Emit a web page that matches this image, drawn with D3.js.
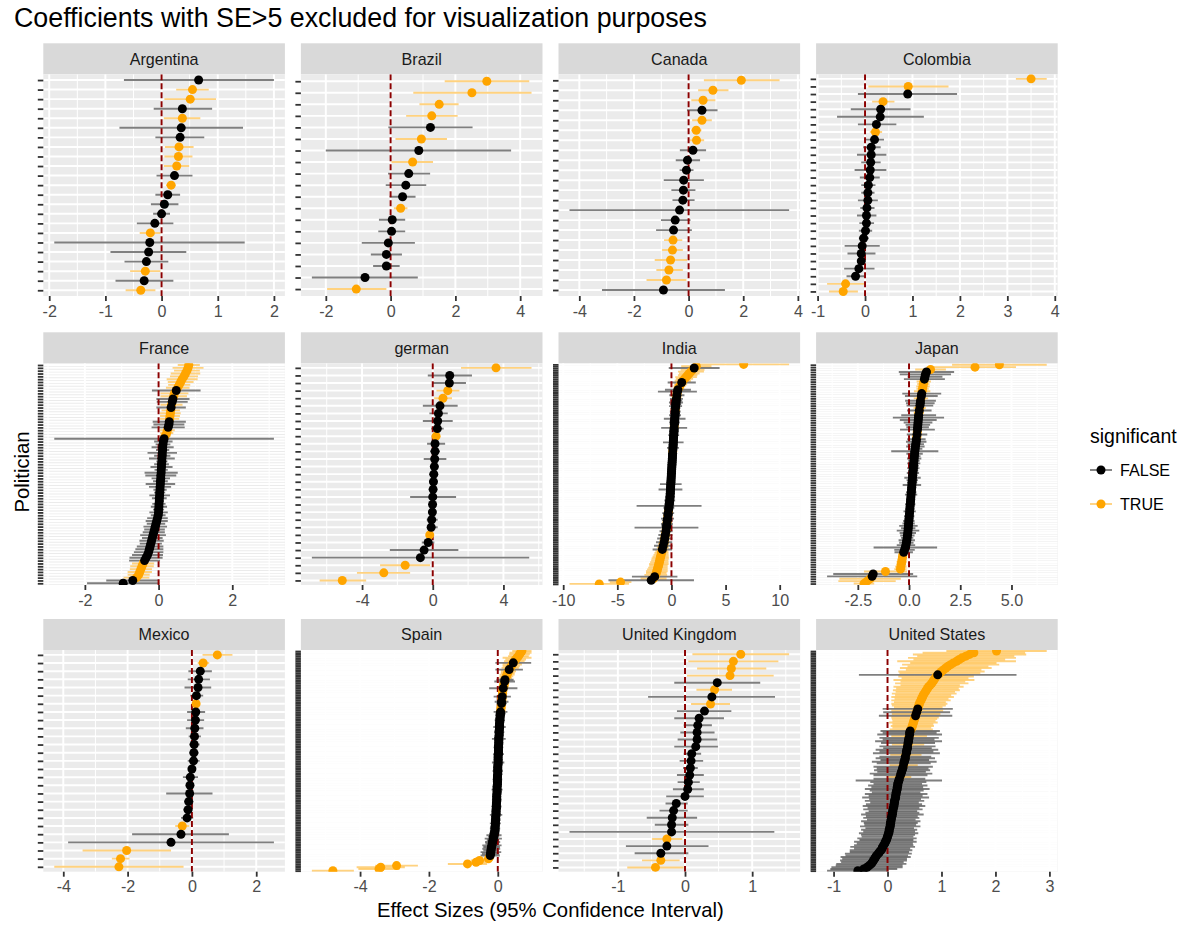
<!DOCTYPE html>
<html>
<head>
<meta charset="utf-8">
<script src="https://cdn.jsdelivr.net/npm/d3@7"></script>
<style>
  body { margin: 0; background: #fff; }
  svg text { font-family: "Liberation Sans", Arial, Helvetica, sans-serif; }
</style>
</head>
<body>
<svg id="chart" width="1188" height="925"></svg>
<script>
// facet order (left to right, top to bottom)
const countries = ["Argentina", "Brazil", "Canada", "Colombia", "France", "german",
                   "India", "Japan", "Mexico", "Spain", "United Kingdom", "United States"];

// x tick labels for each facet (free scales)
const xTickLabels = [
  ["-2", "-1", "0", "1", "2"],
  ["-2", "0", "2", "4"],
  ["-4", "-2", "0", "2", "4"],
  ["-1", "0", "1", "2", "3", "4"],
  ["-2", "0", "2"],
  ["-4", "0", "4"],
  ["-10", "-5", "0", "5", "10"],
  ["-2.5", "0.0", "2.5", "5.0"],
  ["-4", "-2", "0", "2"],
  ["-4", "-2", "0"],
  ["-1", "0", "1"],
  ["-1", "0", "1", "2", "3"]
];

// small facets: [estimate, lower, upper], top row first
const argentina = [[0.66,-0.67,2.00],[0.55,0.26,0.84],[0.51,0.05,0.97],[0.37,-0.14,0.90],[0.37,0.04,0.69],
  [0.35,-0.75,1.45],[0.33,-0.11,0.76],[0.31,0.06,0.57],[0.30,0.05,0.55],[0.27,0.04,0.49],[0.23,-0.09,0.55],
  [0.17,0.08,0.25],[0.11,-0.11,0.33],[0.05,-0.19,0.30],[0.00,-0.15,0.15],[-0.12,-0.44,0.21],[-0.20,-0.39,-0.02],
  [-0.21,-1.91,1.48],[-0.23,-0.91,0.44],[-0.27,-0.66,0.12],[-0.29,-0.56,-0.02],[-0.31,-0.82,0.21],[-0.37,-0.64,-0.11]];

const brazil = [[2.97,1.67,4.28],[2.51,0.70,4.35],[1.50,0.89,2.10],[1.27,0.48,2.07],[1.23,-0.07,2.53],
  [0.95,0.15,1.74],[0.87,-2.00,3.72],[0.68,0.03,1.31],[0.56,-0.08,1.22],[0.47,-0.15,1.10],[0.37,-0.03,0.77],
  [0.31,0.10,0.52],[0.05,-0.36,0.45],[0.03,-0.38,0.45],[-0.07,-0.89,0.75],[-0.13,-0.61,0.35],[-0.13,-0.54,0.28],
  [-0.79,-2.43,0.84],[-1.06,-1.96,-0.13]];

const canada = [[1.93,0.56,3.33],[0.89,0.35,1.46],[0.53,0.10,0.98],[0.49,-0.06,1.06],[0.49,0.13,0.85],
  [0.28,0.10,0.47],[0.29,0.04,0.57],[0.16,-0.32,0.64],[-0.04,-0.47,0.42],[-0.08,-0.33,0.18],[-0.18,-0.91,0.56],
  [-0.19,-0.63,0.25],[-0.21,-0.59,0.22],[-0.33,-4.36,3.68],[-0.49,-1.01,0.07],[-0.55,-1.19,0.12],[-0.57,-0.90,-0.23],
  [-0.59,-0.97,-0.21],[-0.66,-1.24,-0.05],[-0.72,-1.18,-0.21],[-0.81,-1.54,-0.08],[-0.92,-3.17,1.33]];

const colombia = [[3.50,3.18,3.83],[0.91,0.07,1.76],[0.90,-0.15,1.94],[0.38,0.15,0.62],[0.33,-0.30,0.96],
  [0.32,-0.59,1.24],[0.24,-0.15,0.66],[0.22,0.10,0.36],[0.20,-0.02,0.40],[0.13,-0.04,0.33],[0.13,-0.17,0.45],
  [0.12,-0.08,0.33],[0.11,-0.22,0.45],[0.10,-0.11,0.31],[0.07,-0.08,0.22],[0.06,-0.08,0.20],[0.06,-0.15,0.27],
  [0.04,-0.10,0.20],[0.03,-0.17,0.24],[0.03,-0.12,0.19],[0.01,-0.13,0.15],[-0.03,-0.13,0.08],[-0.06,-0.43,0.31],
  [-0.08,-0.37,0.22],[-0.08,-0.15,0.01],[-0.13,-0.44,0.20],[-0.20,-0.39,0.01],[-0.41,-0.80,-0.02],[-0.46,-0.76,-0.15]];

const german = [[3.58,1.60,5.59],[0.96,-0.28,2.22],[0.94,-0.04,1.88],[0.85,0.21,1.51],[0.58,0.08,1.09],
  [0.41,-0.56,1.41],[0.32,-0.19,0.85],[0.28,-0.56,1.13],[0.26,-0.09,0.62],[0.19,0.04,0.34],[0.13,-0.32,0.70],
  [0.13,-0.15,0.41],[0.11,-0.51,0.77],[0.09,-0.13,0.32],[0.06,-0.19,0.30],[0.04,-0.19,0.26],[0.02,-0.19,0.23],
  [0.00,-1.28,1.32],[-0.01,-0.19,0.19],[-0.02,-0.21,0.17],[-0.06,-0.34,0.28],[-0.09,-0.32,0.28],[-0.17,-0.38,-0.03],
  [-0.26,-0.62,0.09],[-0.49,-2.43,1.45],[-0.70,-6.84,5.46],[-1.56,-2.98,-0.15],[-2.77,-4.29,-1.28],[-5.12,-6.40,-3.77]];

const mexico = [[0.79,0.33,1.26],[0.35,0.18,0.54],[0.26,-0.11,0.62],[0.21,-0.13,0.56],[0.19,-0.23,0.60],
  [0.14,-0.05,0.35],[0.13,0.04,0.23],[0.12,-0.15,0.41],[0.11,-0.15,0.38],[0.09,-0.19,0.36],[0.08,-0.10,0.28],
  [0.07,-0.08,0.24],[0.06,-0.08,0.21],[0.05,-0.13,0.24],[0.00,-0.12,0.12],[-0.05,-0.28,0.19],[-0.06,-0.14,0.03],
  [-0.07,-0.80,0.64],[-0.10,-0.24,0.05],[-0.12,-0.27,0.02],[-0.15,-0.34,0.04],[-0.30,-0.52,-0.08],[-0.34,-1.86,1.15],
  [-0.65,-3.85,2.55],[-2.03,-3.40,-0.65],[-2.22,-2.49,-1.94],[-2.27,-4.28,-0.26]];

const unitedKingdom = [[0.83,0.11,1.55],[0.72,0.05,1.39],[0.69,0.18,1.21],[0.67,0.03,1.32],[0.48,-0.16,1.12],
  [0.44,0.17,0.70],[0.40,-0.55,1.34],[0.38,0.09,0.67],[0.29,-0.12,0.69],[0.21,-0.16,0.58],[0.19,-0.02,0.40],
  [0.18,-0.07,0.44],[0.18,-0.11,0.48],[0.16,-0.16,0.49],[0.10,-0.02,0.24],[0.09,-0.08,0.27],[0.08,-0.03,0.19],
  [0.07,-0.12,0.28],[0.05,-0.11,0.22],[0.04,-0.18,0.28],[0.00,-0.28,0.28],[-0.13,-0.29,0.04],[-0.17,-0.38,0.04],
  [-0.19,-0.57,0.18],[-0.20,-0.45,0.05],[-0.20,-1.72,1.33],[-0.27,-0.49,-0.04],[-0.27,-0.88,0.35],[-0.36,-0.75,0.05],
  [-0.36,-0.64,-0.08],[-0.44,-0.86,-0.02]];

// large facets: [estimate, half width of the 95% interval], top row first
const france = [[0.82,0.30],[0.80,0.42],[0.77,0.35],[0.73,0.40],[0.69,0.38],[0.64,0.42],[0.60,0.35],[0.56,0.30],
  [0.52,0.32],[0.48,0.66],[0.43,0.38],[0.41,0.36],[0.39,0.45],[0.37,0.42],[0.35,0.30],[0.34,0.40],[0.33,0.25],
  [0.32,0.28],[0.31,0.27],[0.30,0.26],[0.29,0.45],[0.28,0.42],[0.26,0.45],[0.24,0.20],[0.22,0.18],[0.18,0.15],
  [0.15,2.98],[0.13,0.25],[0.12,0.20],[0.11,0.30],[0.11,0.18],[0.10,0.40],[0.10,0.22],[0.09,0.35],[0.09,0.15],
  [0.08,0.20],[0.08,0.30],[0.07,0.18],[0.07,0.45],[0.06,0.42],[0.06,0.25],[0.05,0.20],[0.05,0.40],[0.04,0.30],
  [0.04,0.18],[0.03,0.15],[0.03,0.28],[0.02,0.20],[0.02,0.12],[0.01,0.18],[0.01,0.22],[0.00,0.15],[0.00,0.25],
  [-0.01,0.20],[-0.03,0.28],[-0.05,0.30],[-0.07,0.25],[-0.09,0.32],[-0.11,0.28],[-0.13,0.30],[-0.15,0.35],
  [-0.17,0.28],[-0.19,0.33],[-0.21,0.30],[-0.23,0.36],[-0.25,0.38],[-0.27,0.40],[-0.30,0.42],[-0.34,0.45],
  [-0.38,0.42],[-0.42,0.30],[-0.45,0.32],[-0.48,0.30],[-0.51,0.33],[-0.54,0.30],[-0.60,0.35],[-0.70,0.72],[-0.96,0.98]];

const india = [[6.67,4.20],[2.30,1.40],[2.10,2.35],[1.95,1.10],[1.80,1.20],[1.65,0.95],[1.50,0.90],[1.35,1.00],
  [1.20,0.80],[1.05,0.75],[0.95,1.30],[0.85,0.60],[0.75,0.55],[0.68,0.50],[0.60,1.20],[0.55,1.80],[0.52,0.40],
  [0.50,0.70],[0.48,0.45],[0.46,0.60],[0.44,0.55],[0.42,0.65],[0.40,0.50],[0.38,0.60],[0.37,0.45],[0.36,0.30],
  [0.35,0.50],[0.34,0.45],[0.33,0.55],[0.32,0.40],[0.30,1.00],[0.29,0.45],[0.28,0.50],[0.27,0.35],[0.26,0.20],
  [0.25,1.20],[0.24,0.40],[0.23,0.45],[0.22,0.35],[0.21,0.50],[0.20,0.40],[0.19,0.30],[0.18,0.35],[0.17,0.95],
  [0.16,0.30],[0.15,0.40],[0.14,0.55],[0.13,0.30],[0.12,0.10],[0.11,0.35],[0.10,0.40],[0.09,0.30],[0.08,0.25],
  [0.07,0.35],[0.06,0.30],[0.05,0.25],[0.04,0.30],[0.03,0.35],[0.02,0.25],[0.01,0.30],[0.00,0.40],[-0.01,0.30],
  [-0.02,0.35],[-0.03,0.25],[-0.04,0.30],[-0.05,0.40],[-0.06,1.00],[-0.07,0.30],[-0.08,0.35],[-0.09,1.10],
  [-0.10,0.30],[-0.11,0.40],[-0.12,0.35],[-0.13,0.45],[-0.14,0.30],[-0.16,0.50],[-0.18,0.40],[-0.20,0.45],
  [-0.22,3.00],[-0.24,0.50],[-0.26,0.40],[-0.28,0.20],[-0.30,0.55],[-0.32,0.45],[-0.34,0.25],[-0.36,0.60],
  [-0.38,0.50],[-0.40,0.30],[-0.42,0.55],[-0.44,0.50],[-0.46,2.95],[-0.48,0.40],[-0.50,0.60],[-0.53,0.35],
  [-0.56,0.65],[-0.59,0.40],[-0.62,0.70],[-0.65,0.45],[-0.68,0.75],[-0.72,0.50],[-0.76,0.85],[-0.80,0.55],
  [-0.84,0.90],[-0.88,0.60],[-0.92,0.65],[-0.96,0.70],[-1.00,0.75],[-1.04,0.80],[-1.08,0.80],[-1.12,0.85],
  [-1.16,0.90],[-1.20,0.85],[-1.25,0.90],[-1.30,0.95],[-1.35,1.00],[-1.40,0.95],[-1.45,1.05],[-1.55,2.10],
  [-1.65,1.20],[-1.87,3.95],[-4.70,1.00],[-6.67,2.75]];

const japan = [[4.41,2.31],[3.22,2.00],[1.05,0.75],[0.85,1.35],[0.80,1.25],[0.78,0.85],[0.75,1.00],[0.72,0.35],
  [0.70,0.30],[0.68,0.33],[0.66,0.30],[0.64,0.40],[0.62,0.95],[0.60,0.80],[0.58,0.35],[0.56,0.75],[0.55,0.70],
  [0.53,0.65],[0.52,0.30],[0.50,0.60],[0.48,0.25],[0.47,0.85],[0.46,1.25],[0.45,0.90],[0.44,0.70],[0.43,0.60],
  [0.42,0.55],[0.41,0.85],[0.40,0.20],[0.39,0.50],[0.38,0.22],[0.36,0.45],[0.35,0.50],[0.33,0.40],[0.31,0.45],
  [0.30,0.35],[0.28,1.15],[0.27,0.40],[0.26,0.30],[0.25,0.35],[0.24,0.28],[0.23,0.32],[0.22,0.26],[0.21,0.30],
  [0.20,0.25],[0.19,0.30],[0.18,0.22],[0.17,0.40],[0.16,0.28],[0.15,0.25],[0.14,0.45],[0.13,0.22],[0.12,0.20],
  [0.11,0.25],[0.10,0.30],[0.09,0.18],[0.08,0.22],[0.07,0.20],[0.06,0.25],[0.05,0.18],[0.04,0.22],[0.03,0.30],
  [0.02,0.20],[0.01,0.25],[0.00,0.22],[-0.01,0.28],[-0.02,0.30],[-0.03,0.45],[-0.04,0.35],[-0.05,0.55],
  [-0.06,0.40],[-0.08,0.35],[-0.09,0.30],[-0.11,0.40],[-0.13,0.35],[-0.15,0.45],[-0.18,1.55],[-0.22,0.50],
  [-0.26,0.45],[-0.30,0.20],[-0.32,0.22],[-0.34,0.20],[-0.36,0.25],[-0.38,0.23],[-0.40,0.28],[-0.42,0.30],
  [-1.15,1.05],[-1.75,1.95],[-1.80,2.20],[-1.90,1.50],[-2.05,1.40],[-2.20,0.50]];

const spain = [[0.70,0.28],[0.66,0.32],[0.63,0.30],[0.60,0.30],[0.56,0.42],[0.52,0.30],[0.48,0.30],[0.45,0.52],
  [0.42,0.28],[0.39,0.25],[0.36,0.25],[0.33,0.40],[0.31,0.22],[0.29,0.20],[0.27,0.22],[0.25,0.20],[0.23,0.18],
  [0.21,0.25],[0.20,0.30],[0.19,0.15],[0.18,0.14],[0.17,0.15],[0.16,0.41],[0.15,0.12],[0.14,0.12],[0.14,0.10],
  [0.13,0.11],[0.13,0.25],[0.12,0.10],[0.12,0.09],[0.11,0.20],[0.11,0.15],[0.10,0.08],[0.10,0.09],[0.09,0.08],
  [0.09,0.07],[0.08,0.20],[0.08,0.15],[0.07,0.14],[0.07,0.12],[0.06,0.10],[0.06,0.15],[0.06,0.12],[0.05,0.10],
  [0.05,0.12],[0.05,0.18],[0.05,0.09],[0.04,0.10],[0.04,0.15],[0.04,0.08],[0.04,0.12],[0.03,0.10],[0.03,0.20],
  [0.03,0.09],[0.03,0.12],[0.03,0.08],[0.02,0.10],[0.02,0.14],[0.02,0.08],[0.02,0.11],[0.02,0.09],[0.02,0.16],
  [0.01,0.10],[0.01,0.08],[0.01,0.12],[0.01,0.09],[0.01,0.18],[0.01,0.10],[0.00,0.08],[0.00,0.12],[0.00,0.09],
  [0.00,0.15],[0.00,0.10],[0.00,0.08],[-0.01,0.11],[-0.01,0.09],[-0.01,0.14],[-0.01,0.10],[-0.01,0.08],
  [-0.01,0.12],[-0.02,0.10],[-0.02,0.09],[-0.02,0.16],[-0.02,0.10],[-0.02,0.12],[-0.03,0.09],[-0.03,0.11],
  [-0.03,0.10],[-0.03,0.14],[-0.03,0.08],[-0.04,0.12],[-0.04,0.10],[-0.04,0.15],[-0.04,0.09],[-0.05,0.11],
  [-0.05,0.13],[-0.05,0.10],[-0.05,0.18],[-0.06,0.12],[-0.06,0.10],[-0.06,0.14],[-0.07,0.12],[-0.07,0.16],
  [-0.07,0.11],[-0.08,0.13],[-0.08,0.15],[-0.08,0.12],[-0.09,0.14],[-0.10,0.15],[-0.11,0.22],[-0.12,0.16],
  [-0.13,0.25],[-0.14,0.18],[-0.15,0.22],[-0.16,0.20],[-0.17,0.28],[-0.18,0.24],[-0.19,0.26],[-0.20,0.22],
  [-0.20,0.30],[-0.21,0.25],[-0.22,0.28],[-0.24,0.12],[-0.27,0.14],[-0.53,0.25],[-0.63,0.30],[-0.88,0.57],
  [-2.94,0.62],[-3.40,0.70],[-3.45,0.60],[-4.79,0.61]];

const unitedStates = [[2.02,0.93],[1.60,0.95],[1.52,1.05],[1.45,0.90],[1.38,1.00],[1.33,0.85],[1.28,1.10],
  [1.22,0.80],[1.17,0.90],[1.12,0.75],[1.08,0.85],[1.04,0.70],[1.00,0.80],[0.97,0.75],[0.93,1.46],[0.90,0.70],
  [0.88,0.62],[0.86,0.75],[0.84,0.60],[0.82,0.68],[0.79,0.55],[0.76,0.65],[0.74,0.58],[0.72,0.62],[0.70,0.55],
  [0.68,0.60],[0.66,0.52],[0.65,0.58],[0.63,0.50],[0.62,0.55],[0.60,0.48],[0.59,0.52],[0.58,0.50],[0.57,0.45],
  [0.56,0.65],[0.55,0.48],[0.54,0.62],[0.53,0.45],[0.52,0.68],[0.51,0.44],[0.50,0.42],[0.49,0.40],[0.48,0.45],
  [0.47,0.38],[0.46,0.40],[0.45,0.36],[0.44,0.40],[0.42,0.55],[0.41,0.50],[0.41,0.60],[0.40,0.33],[0.40,0.55],
  [0.39,0.48],[0.39,0.62],[0.38,0.50],[0.38,0.30],[0.37,0.52],[0.37,0.45],[0.36,0.58],[0.35,0.50],[0.35,0.62],
  [0.34,0.29],[0.33,0.48],[0.33,0.55],[0.32,0.45],[0.31,0.60],[0.30,0.50],[0.30,0.26],[0.29,0.55],[0.28,0.48],
  [0.27,0.52],[0.26,0.45],[0.25,0.58],[0.24,0.50],[0.23,0.21],[0.22,0.48],[0.21,0.80],[0.20,0.52],[0.19,0.45],
  [0.19,0.55],[0.18,0.48],[0.18,0.60],[0.17,0.50],[0.16,0.45],[0.16,0.58],[0.15,0.50],[0.15,0.62],[0.14,0.48],
  [0.13,0.55],[0.13,0.45],[0.12,0.52],[0.12,0.58],[0.11,0.48],[0.10,0.55],[0.10,0.45],[0.09,0.50],[0.09,0.58],
  [0.08,0.48],[0.07,0.52],[0.07,0.45],[0.06,0.55],[0.06,0.50],[0.05,0.48],[0.05,0.56],[0.04,0.45],[0.03,0.52],
  [0.03,0.48],[0.02,0.55],[0.01,0.50],[0.00,0.48],[-0.01,0.55],[-0.02,0.50],[-0.04,0.58],[-0.05,0.52],
  [-0.07,0.55],[-0.09,0.60],[-0.10,0.52],[-0.12,0.58],[-0.15,0.55],[-0.17,0.62],[-0.20,0.58],[-0.22,0.65],
  [-0.24,0.60],[-0.26,0.62],[-0.28,0.58],[-0.30,0.65],[-0.34,0.62],[-0.38,0.66],[-0.44,0.62],[-0.55,0.57]];

// turn each facet into rows with lower / upper bounds and significance
function toRows(arr) {
  return arr.map((r, i) => {
    const est = r[0];
    const lo = r.length === 3 ? r[1] : r[0] - r[1];
    const hi = r.length === 3 ? r[2] : r[0] + r[1];
    return {i, est, lo, hi, sig: lo > 0 || hi < 0};
  });
}
const panels = [argentina, brazil, canada, colombia, france, german,
                india, japan, mexico, spain, unitedKingdom, unitedStates].map(toRows);

// layout (ggplot facet_wrap, 4 columns)
const colLeft = [43.3, 300.9, 558.5, 816.1];
const panelW = 241.6;
const stripTop = [43.3, 332.3, 619.0];
const stripH = 31;
const panelH = 221.7;
const orange = "#FFA500";
const fontFam = '"Liberation Sans", Arial, sans-serif';

const svg = d3.select("#chart");
const defs = svg.append("defs");

svg.append("text")
  .attr("x", 14).attr("y", 27)
  .attr("font-size", 26.8).attr("fill", "#000")
  .text("Coefficients with SE>5 excluded for visualization purposes");

countries.forEach((name, k) => {
  const rows = panels[k];
  // significant ones drawn first, the rest on top
  const drawOrder = rows.slice().sort((a, b) => (b.sig - a.sig) || (a.i - b.i));
  const col = k % 4, r = Math.floor(k / 4);
  const left = colLeft[col], top = stripTop[r] + stripH;

  // free x scale with ggplot's 5% expansion
  const lo = d3.min(rows, d => d.lo), hi = d3.max(rows, d => d.hi);
  const pad = (hi - lo) * 0.05;
  const x = d3.scaleLinear().domain([lo - pad, hi + pad]).range([0, panelW]);
  // discrete y with 0.6 expansion
  const y = d3.scalePoint().domain(d3.range(rows.length)).range([0, panelH]).padding(0.6);

  const majors = xTickLabels[k].map(Number);
  const step = majors[1] - majors[0];
  const minors = [majors[0] - step / 2, ...majors.map(v => v + step / 2)]
    .filter(v => v >= lo - pad && v <= hi + pad);

  // strip
  svg.append("rect")
    .attr("x", left).attr("y", stripTop[r])
    .attr("width", panelW).attr("height", stripH)
    .attr("fill", "#D9D9D9");
  svg.append("text")
    .attr("x", left + panelW / 2).attr("y", stripTop[r] + 21.3)
    .attr("text-anchor", "middle")
    .attr("font-size", 16.1).attr("fill", "#1A1A1A")
    .text(name);

  const g = svg.append("g").attr("transform", `translate(${left},${top})`);
  g.append("rect").attr("width", panelW).attr("height", panelH).attr("fill", "#EBEBEB");

  defs.append("clipPath").attr("id", "clip" + k)
    .append("rect").attr("width", panelW).attr("height", panelH);
  const inner = g.append("g").attr("clip-path", `url(#clip${k})`);

  // grid
  inner.selectAll(".minor").data(minors).join("line")
    .attr("x1", d => x(d)).attr("x2", d => x(d))
    .attr("y1", 0).attr("y2", panelH)
    .attr("stroke", "#fff").attr("stroke-width", 1);
  inner.selectAll(".major").data(majors).join("line")
    .attr("x1", d => x(d)).attr("x2", d => x(d))
    .attr("y1", 0).attr("y2", panelH)
    .attr("stroke", "#fff").attr("stroke-width", 1.95);
  inner.selectAll(".hgrid").data(rows).join("line")
    .attr("x1", 0).attr("x2", panelW)
    .attr("y1", d => y(d.i)).attr("y2", d => y(d.i))
    .attr("stroke", "#fff").attr("stroke-width", 1.95);

  // confidence intervals
  inner.selectAll(".ci").data(drawOrder).join("line")
    .attr("x1", d => x(d.lo)).attr("x2", d => x(d.hi))
    .attr("y1", d => y(d.i)).attr("y2", d => y(d.i))
    .attr("stroke", d => d.sig ? orange : "#000")
    .attr("stroke-opacity", 0.5)
    .attr("stroke-width", 1.9);

  // zero line
  inner.append("line")
    .attr("x1", x(0)).attr("x2", x(0))
    .attr("y1", 0).attr("y2", panelH)
    .attr("stroke", "#8B0000").attr("stroke-width", 1.95)
    .attr("stroke-dasharray", "6,3");

  // estimates
  inner.selectAll(".pt").data(drawOrder).join("circle")
    .attr("cx", d => x(d.est)).attr("cy", d => y(d.i))
    .attr("r", 4.5)
    .attr("fill", d => d.sig ? orange : "#000");

  // axes
  const xAxis = g.append("g")
    .attr("transform", `translate(0,${panelH})`)
    .call(d3.axisBottom(x).tickValues(majors)
      .tickFormat((d, i) => xTickLabels[k][i])
      .tickSize(5).tickSizeOuter(0).tickPadding(4.3));
  const yAxis = g.append("g")
    .call(d3.axisLeft(y).tickFormat("").tickSize(5.5).tickSizeOuter(0));
  [xAxis, yAxis].forEach(a => {
    a.select(".domain").remove();
    a.selectAll(".tick line").attr("stroke", "#333").attr("stroke-width", 1.8);
    a.selectAll("text").attr("fill", "#4D4D4D").attr("font-size", 16.1)
      .attr("font-family", fontFam);
  });
});

// axis titles
svg.append("text")
  .attr("x", 550.3).attr("y", 917)
  .attr("text-anchor", "middle")
  .attr("font-size", 20.3).attr("fill", "#000")
  .text("Effect Sizes (95% Confidence Interval)");
svg.append("text")
  .attr("transform", "translate(29,472) rotate(-90)")
  .attr("text-anchor", "middle")
  .attr("font-size", 20.3).attr("fill", "#000")
  .text("Politician");

// legend
const legend = svg.append("g").attr("transform", "translate(1090,0)");
legend.append("text")
  .attr("x", 0).attr("y", 443)
  .attr("font-size", 19.5).attr("fill", "#000")
  .text("significant");
const keys = [{label: "FALSE", color: "#000", cy: 470}, {label: "TRUE", color: orange, cy: 504}];
keys.forEach(kd => {
  legend.append("line")
    .attr("x1", 0).attr("x2", 22).attr("y1", kd.cy).attr("y2", kd.cy)
    .attr("stroke", kd.color).attr("stroke-opacity", 0.5).attr("stroke-width", 1.9);
  legend.append("circle")
    .attr("cx", 11).attr("cy", kd.cy).attr("r", 4.5).attr("fill", kd.color);
  legend.append("text")
    .attr("x", 30).attr("y", kd.cy + 5.5)
    .attr("font-size", 16.1).attr("fill", "#000")
    .text(kd.label);
});
</script>
</body>
</html>
